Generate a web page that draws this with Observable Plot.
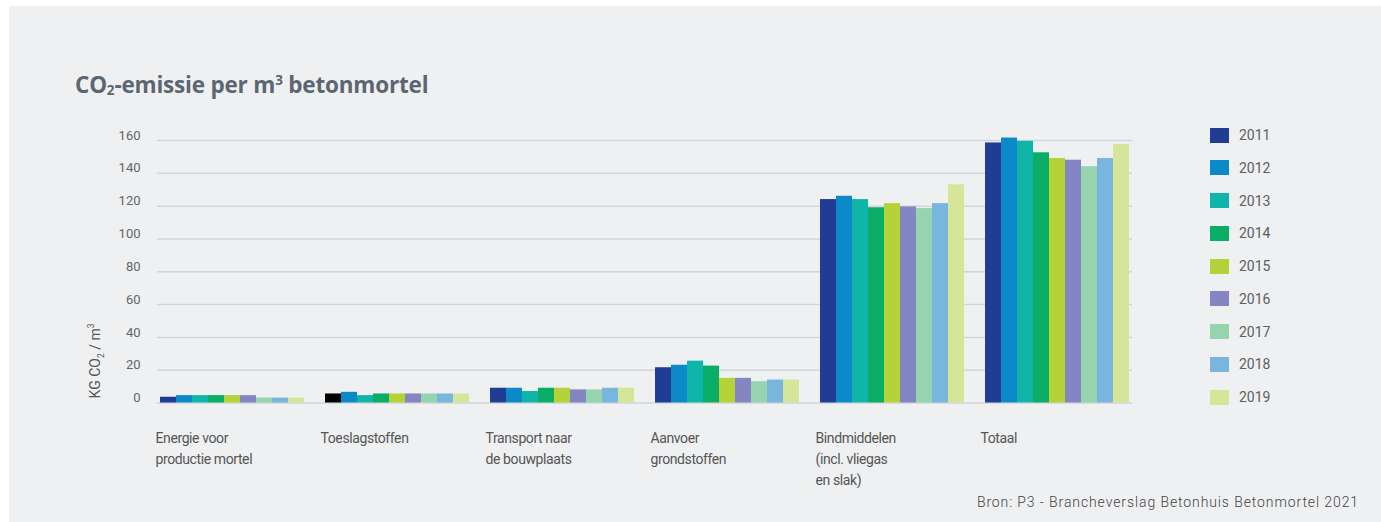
<!DOCTYPE html>
<html>
<head>
<meta charset="utf-8">
<script src="https://cdn.jsdelivr.net/npm/d3@7"></script>
<script src="https://cdn.jsdelivr.net/npm/@observablehq/plot@0.6"></script>
<style>
  html, body { margin: 0; padding: 0; background: #ffffff; }
  body { width: 1381px; height: 522px; position: relative; overflow: hidden; font-family: Roboto, "Open Sans", sans-serif; }
  #card { position: absolute; left: 9px; top: 6px; width: 1372px; height: 516px; background: #eff0f2; }
  #title { position: absolute; left: 75px; top: 70px; line-height: 30px; font-family: "Open Sans", sans-serif; font-weight: 700; font-size: 22.5px; color: #5b6670; white-space: nowrap; letter-spacing: -0.2px; }
  #title sub, #title sup, #ylabel sub, #ylabel sup { font-size: 0.6em; line-height: 0; }
  #title sub { vertical-align: -0.15em; }
  #chart { position: absolute; left: 0; top: 110px; }
  #ylabel { position: absolute; left: 95px; top: 361px; transform: translate(-50%, -50%) rotate(-90deg); font-size: 14px; color: #555; white-space: nowrap; }
  #legend { position: absolute; left: 0; top: 0; }
  .sw { position: absolute; width: 19px; height: 15px; }
  .lab { position: absolute; font-size: 14px; color: #5e5e5e; line-height: 16px; }
  #caption { position: absolute; right: 22px; top: 494px; font-size: 14px; font-weight: 300; letter-spacing: 0.9px; color: #444; white-space: nowrap; }
</style>
</head>
<body>
<div id="card"></div>
<div id="title">CO<sub>2</sub>-emissie per m<sup>3</sup> betonmortel</div>
<div id="chart"></div>
<div id="ylabel">KG CO<sub>2</sub> / m<sup>3</sup></div>
<div id="legend"></div>
<div id="caption">Bron: P3 - Brancheverslag Betonhuis Betonmortel 2021</div>
<script>
// Emission components (kg CO2 per m3 ready-mix concrete), one series per year
const categories = [
  "Energie voor\nproductie mortel",
  "Toeslagstoffen",
  "Transport naar\nde bouwplaats",
  "Aanvoer\ngrondstoffen",
  "Bindmiddelen\n(incl. vliegas\nen slak)",
  "Totaal"
];
const years = ["2011", "2012", "2013", "2014", "2015", "2016", "2017", "2018", "2019"];
const colors = ["#203d93", "#0b89c9", "#10b5a9", "#0aad65", "#b5d236", "#8486c3", "#95d4ae", "#78b6df", "#d6e699"];

const energie    = [3.5, 4.5, 4.5, 4.5, 4.5, 4.5, 3, 3, 3];
const toeslag    = [5.5, 6.5, 4.5, 5.5, 5.5, 5.5, 5.5, 5.5, 5.5];
const transport  = [9, 9, 7, 9, 9, 8, 8, 9, 9];
const aanvoer    = [21.5, 23, 25.5, 22.5, 15, 15, 13, 14, 14];
const bindmiddel = [124, 126, 124, 119, 121.5, 119.5, 118.5, 121.5, 133];
const totaal     = [158.5, 161.5, 159.5, 152.5, 149, 148, 144, 149, 157.5];

const yTicks = [0, 20, 40, 60, 80, 100, 120, 140, 160];

// The 2011 aggregates bar is printed in black in the report
const blackBars = [["Toeslagstoffen", "2011"]];

const series = [energie, toeslag, transport, aanvoer, bindmiddel, totaal];
const rows = categories.flatMap((cat, i) =>
  years.map((year, j) => ({cat, year, value: series[i][j]}))
);
const colorOf = new Map(years.map((y, i) => [y, colors[i]]));
const isBlack = d => blackBars.some(([c, y]) => d.cat.startsWith(c) && d.year === y);

// Grid lines per facet; all but the first reach back over the gap so they read as continuous
const gridRows = categories.flatMap((cat, i) => yTicks.map(v => ({cat, v, first: i === 0})));

const chart = Plot.plot({
  width: 1381,
  height: 390,
  marginLeft: 157,
  marginRight: 249,
  marginTop: 30,
  marginBottom: 97.5,
  style: {background: "transparent", fontFamily: "Roboto, sans-serif", overflow: "visible"},
  fx: {domain: categories, paddingInner: 15 / 165, paddingOuter: 0, axis: null, label: null},
  x: {domain: years, padding: 0, axis: null},
  y: {domain: [0, 160], axis: null},
  marks: [
    Plot.ruleY(gridRows.filter(d => d.first), {fx: "cat", y: "v", stroke: "#d2d5d9", strokeWidth: 1.5}),
    Plot.ruleY(gridRows.filter(d => !d.first), {fx: "cat", y: "v", stroke: "#d2d5d9", strokeWidth: 1.5, insetLeft: -15}),
    Plot.barY(rows, {fx: "cat", x: "year", y: "value", fill: d => isBlack(d) ? "#000000" : colorOf.get(d.year)}),
    Plot.axisY({ticks: yTicks, tickSize: 0, tickPadding: 17, dy: -5, fontSize: 13, color: "#666", label: null}),
    Plot.text(categories, {
      fx: d => d, text: d => d,
      frameAnchor: "bottom-left", textAnchor: "start", lineAnchor: "top",
      dy: 25, dx: -2, fontSize: 14, fill: "#555", lineHeight: 1.5
    })
  ]
});
chart.querySelectorAll("g[aria-label='text'] text").forEach(t => t.setAttribute("letter-spacing", "-0.4"));
document.getElementById("chart").appendChild(chart);

// Vertical year legend
const legend = document.getElementById("legend");
years.forEach((y, i) => {
  const cy = 135 + i * 32.75;
  const sw = document.createElement("div");
  sw.className = "sw";
  sw.style.left = "1210px";
  sw.style.top = (cy - 7.5) + "px";
  sw.style.background = colors[i];
  legend.appendChild(sw);
  const lab = document.createElement("div");
  lab.className = "lab";
  lab.style.left = "1239px";
  lab.style.top = (cy - 8) + "px";
  lab.textContent = y;
  legend.appendChild(lab);
});
</script>
</body>
</html>
